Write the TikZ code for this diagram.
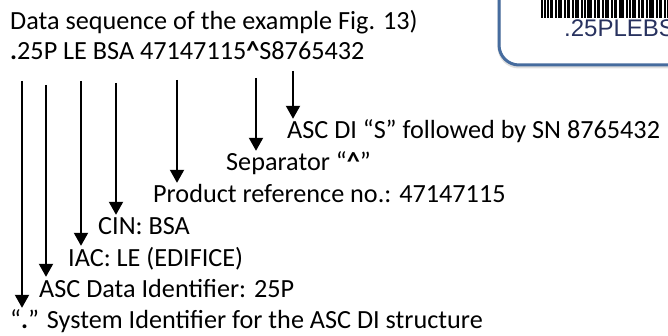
\documentclass[tikz,border=0pt]{standalone}
\usepackage{fontspec}
\setmainfont{Carlito}
\newfontfamily\barfont{Liberation Sans}
\usetikzlibrary{arrows.meta}
\definecolor{boxblue}{RGB}{70,108,158}
\definecolor{codeblue}{RGB}{40,50,95}
\tikzset{
    txt/.style = {anchor = base west, inner sep = 0pt, text height = 17pt, font = \fontsize{26.2}{30}\selectfont},
    pointer/.style = {line width = 2pt, -{Triangle[width = 14pt, length = 13pt]}, shorten > = 3pt},
}
\begin{document}
\begin{tikzpicture}[x = 1pt, y = -1pt]
        \useasboundingbox (0, 0) rectangle (668, 336);
        % label with barcode, top right
        \begin{scope}
            \clip (0, 0) rectangle (668, 336);
            \draw[gray!25, line width = 3pt, rounded corners = 20pt] (499, -40) rectangle (720, 67);
            \draw[boxblue, line width = 3pt, rounded corners = 20pt] (499, -40) rectangle (720, 65);
            \foreach \x/\w in {541/1.5, 544/1.5, 547/1.5, 550/3, 555/1.5, 558/4, 564/1.5, 567/3, 572/1.5, 575/4, 581/1.5, 584/1.5, 587/5, 594/1.5, 597/3, 602/1.5, 605/4, 611/1.5, 614/3, 619/5, 626/1.5, 629/1.5, 632/4, 638/1.5, 641/3, 646/1.5, 649/5, 656/1.5, 659/3, 664/1.5, 667/3}
                \fill (\x, 0) rectangle ++(\w, 18);
            \node[anchor = base west, inner sep = 0pt, text = codeblue, font = \barfont\fontsize{24}{24}\selectfont] (code) at (564, 37) {.25PLEBS};
        \end{scope}
        % data sequence
        \node[txt] (title) at (10, 30) {Data sequence of the example Fig. 13)};
        \node[txt] (seq) at (10, 60) {\textbf{.}25P LE BSA 47147115\textbf{\textasciicircum}S8765432};
        % meanings
        \node[txt] (sdi) at (287, 139) {ASC DI “S” followed by SN 8765432};
        \node[txt] (sep) at (226, 171) {Separator “\textbf{\textasciicircum}”};
        \node[txt] (ref) at (153, 203) {Product reference no.: 47147115};
        \node[txt] (cin) at (98, 235) {CIN: BSA};
        \node[txt] (iac) at (68, 266) {IAC: LE (EDIFICE)};
        \node[txt] (adi) at (39, 297) {ASC Data Identifier: 25P};
        \node[txt] (sys) at (10, 328) {“\textbf{.}” System Identifier for the ASC DI structure};
        % arrow tops
        \coordinate (tsys) at (22, 81);
        \coordinate (tadi) at (46, 85);
        \coordinate (tiac) at (81, 81);
        \coordinate (tcin) at (116, 83);
        \coordinate (tref) at (177, 80);
        \coordinate (tsep) at (256, 78);
        \coordinate (tsdi) at (293, 71);
        \draw[pointer] (tsys) -- (tsys |- sys.north);
        \draw[pointer] (tadi) -- (tadi |- adi.north);
        \draw[pointer] (tiac) -- (tiac |- iac.north);
        \draw[pointer] (tcin) -- (tcin |- cin.north);
        \draw[pointer] (tref) -- (tref |- ref.north);
        \draw[pointer] (tsep) -- (tsep |- sep.north);
        \draw[pointer] (tsdi) -- (tsdi |- sdi.north);
        % \draw[pointer] (tsdi) -- ++(0, 40);
    \end{tikzpicture}
\end{document}
